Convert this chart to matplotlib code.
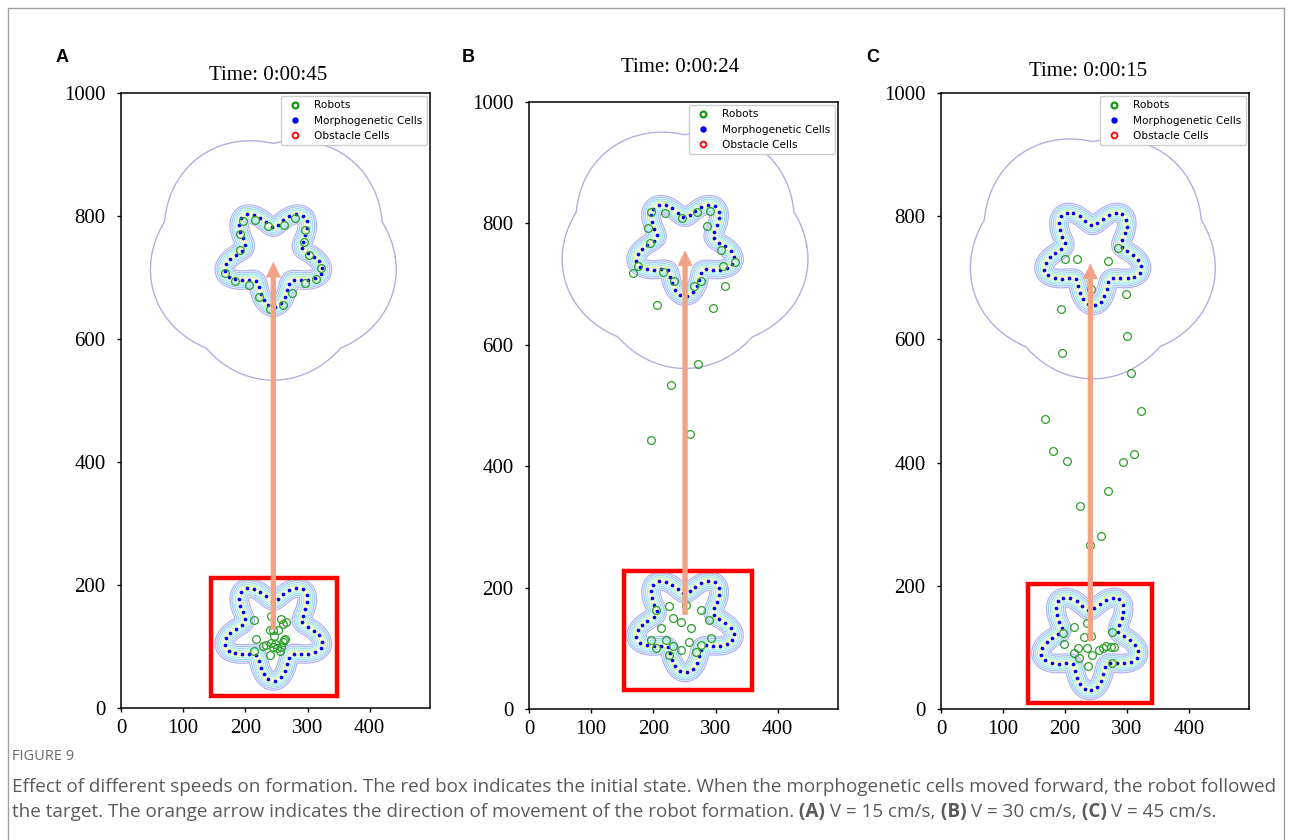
import numpy as np
import matplotlib
matplotlib.use('Agg')
import matplotlib.pyplot as plt
from matplotlib.lines import Line2D
from matplotlib.patches import Rectangle
from matplotlib import font_manager as fm

# ---------------- data ----------------
panel_letters = ['A', 'B', 'C']
time_labels = ['Time: 0:00:45', 'Time: 0:00:24', 'Time: 0:00:15']
x_ticks = [0, 100, 200, 300, 400]
y_ticks = [0, 200, 400, 600, 800, 1000]

start_centers = [(245, 126), (251, 142), (240, 112)]      # initial star formation
target_centers = [(245, 734), (251, 762), (245, 737)]     # morphogenetic target star
red_boxes = [(144, 19, 347, 211), (153, 32, 358, 227), (141, 10, 341, 203)]
arrow_x = [245, 251, 241]
arrow_y0 = [127, 155, 110]
arrow_y1 = [726, 756, 724]

star_r0, star_amp = 65, 17          # star outline radius / modulation
flower_r0, flower_amp = 184, 17     # outer lavender boundary
n_cells = 48

robots_A_x = [196, 215, 236, 262, 280, 296, 295, 303, 321, 314, 296, 275, 261, 240, 222, 206, 183, 168, 191, 191,
              214, 241, 258, 266, 261, 252, 244, 239, 246, 217, 228, 233, 241, 248, 251, 258, 262, 264, 260, 239, 214, 244, 255]
robots_A_y = [792, 794, 784, 786, 796, 778, 758, 737, 716, 697, 691, 675, 656, 649, 668, 688, 695, 708, 745, 770,
              143, 149, 144, 140, 136, 127, 127, 127, 117, 112, 101, 102, 105, 104, 97, 99, 111, 113, 108, 86, 92, 99, 92]

robots_B_x = [197, 218, 246, 270, 291, 191, 195, 175, 168, 309, 312, 332, 286, 233, 265, 277, 215,
              206, 296, 316, 272, 228, 259, 197,
              204, 225, 252, 277, 290, 231, 244, 260, 212, 196, 220, 231, 257, 277, 293, 204, 244, 269, 225]
robots_B_y = [819, 817, 809, 819, 820, 792, 768, 730, 718, 756, 730, 736, 796, 705, 697, 705, 720,
              666, 661, 697, 568, 534, 453, 443,
              163, 170, 171, 163, 147, 150, 143, 133, 133, 114, 114, 104, 110, 105, 117, 100, 97, 94, 89]

robots_C_x = [200, 219, 269, 286, 299, 193, 242,
              196, 300, 306, 322, 168, 181, 204, 311, 293, 269, 225, 258, 241,
              236, 214, 197, 230, 242, 276, 198, 214, 221, 235, 223, 244, 255, 262, 266, 275, 279, 238, 276]
robots_C_y = [731, 731, 727, 749, 673, 650, 682,
              578, 606, 546, 484, 471, 419, 403, 414, 401, 354, 330, 281, 266,
              140, 133, 123, 117, 119, 125, 105, 91, 99, 99, 83, 88, 96, 99, 102, 101, 101, 70, 75]

robots_x = [robots_A_x, robots_B_x, robots_C_x]
robots_y = [robots_A_y, robots_B_y, robots_C_y]

# axes rectangles in pixels: left, top, right, bottom
axes_px = [(121, 93, 430, 708), (529, 102, 838, 709), (941, 93, 1249, 709)]
title_px = [(268, 75), (680, 67), (1088, 72)]
letter_px = [(62, 58), (468, 58), (873, 58)]

W, H = 1292, 840
fig = plt.figure(figsize=(W / 100, H / 100), dpi=100)

serif = 'Liberation Serif'
band_levels = [-15, -12, -9, -6, -3, 3, 6, 9, 12, 15]
band_colors = ['#b6b2f0', '#a4c4f6', '#9edcf4', '#a6f0e4', '#e8f4a0',
               '#e8f4a0', '#a6f0e4', '#9edcf4', '#a4c4f6', '#b6b2f0']
robot_green = '#2ca02c'
arrow_color = '#f2a285'
flower_color = '#b3aedd'


def star_radius(t):
    return star_r0 + star_amp * np.cos(5 * (t - 1.5 * np.pi))


def star_curve(cx, cy, n=600):
    t = np.linspace(0, 2 * np.pi, n, endpoint=False)
    r = star_radius(t)
    return cx + r * np.cos(t), cy + r * np.sin(t)


def draw_star(ax, cx, cy):
    gx = np.linspace(cx - 120, cx + 120, 201)
    gy = np.linspace(cy - 120, cy + 120, 201)
    X, Y = np.meshgrid(gx, gy)
    px, py = star_curve(cx, cy, 500)
    D = np.full(X.shape, np.inf)
    for i in range(len(px)):
        D = np.minimum(D, (X - px[i]) ** 2 + (Y - py[i]) ** 2)
    D = np.sqrt(D)
    th = np.arctan2(Y - cy, X - cx)
    rho = np.hypot(X - cx, Y - cy)
    S = np.where(rho < star_radius(th), -D, D)
    ax.contour(X, Y, S, levels=band_levels, colors=band_colors, linewidths=0.9, zorder=2)
    # morphogenetic cells, evenly spaced along the outline
    cxs, cys = star_curve(cx, cy, 2000)
    seg = np.hypot(np.diff(np.r_[cxs, cxs[0]]), np.diff(np.r_[cys, cys[0]]))
    s = np.r_[0, np.cumsum(seg)][:-1]
    targets = np.linspace(0, s[-1] + seg[-1], n_cells, endpoint=False)
    idx = np.searchsorted(s, targets).clip(0, len(s) - 1)
    ax.plot(cxs[idx], cys[idx], 'o', color='#0000ff', ms=2.7, mew=0, zorder=3)


for k in range(3):
    l, t, r, b = axes_px[k]
    ax = fig.add_axes([l / W, 1 - b / H, (r - l) / W, (b - t) / H])
    ax.set_xlim(0, 497)
    ax.set_ylim(0, 1000)
    ax.set_xticks(x_ticks)
    ax.set_yticks(y_ticks)
    for lab in ax.get_xticklabels() + ax.get_yticklabels():
        lab.set_fontfamily(serif)
        lab.set_fontsize(15)
    ax.tick_params(axis='x', length=3, width=1, pad=5)
    ax.tick_params(axis='y', length=3, width=1, pad=8)
    for sp in ax.spines.values():
        sp.set_linewidth(1.1)

    # outer flower boundary
    fx, fy = target_centers[k]
    th = np.linspace(0, 2 * np.pi, 800)
    rf = flower_r0 + flower_amp * np.abs(np.sin(2.5 * (th - np.pi / 2)))
    ax.plot(fx + rf * np.cos(th), fy + rf * np.sin(th), color=flower_color, lw=1.0, zorder=1)

    draw_star(ax, *start_centers[k])
    draw_star(ax, *target_centers[k])

    x0, y0, x1, y1 = red_boxes[k]
    ax.add_patch(Rectangle((x0, y0), x1 - x0, y1 - y0, fill=False, ec='#ff0000', lw=3.2, zorder=4))

    ax.plot(robots_x[k], robots_y[k], 'o', mfc='none', mec=robot_green, ms=5.6, mew=0.9, zorder=5)

    ax.arrow(arrow_x[k], arrow_y0[k], 0, arrow_y1[k] - arrow_y0[k], width=8.5, head_width=24,
             head_length=26, length_includes_head=True, color=arrow_color, lw=0, zorder=6)

    handles = [Line2D([], [], ls='none', marker='o', mfc='none', mec='#119911', mew=1.6, ms=4.2),
               Line2D([], [], ls='none', marker='o', mfc='#0000ff', mec='#0000ff', ms=3.6),
               Line2D([], [], ls='none', marker='o', mfc='none', mec='#ff0000', mew=1.3, ms=4.2)]
    leg = ax.legend(handles, ['Robots', 'Morphogenetic Cells', 'Obstacle Cells'], loc='upper right',
                    bbox_to_anchor=(1, 1), borderaxespad=0.3, prop={'family': 'DejaVu Sans', 'size': 7.6},
                    labelspacing=0.5, framealpha=1, edgecolor='#cccccc', fancybox=True)
    leg.set_zorder(10)

    tx, ty = title_px[k]
    fig.text(tx / W, 1 - ty / H, time_labels[k], family=serif, fontsize=15, ha='center', va='center')
    lx, ly = letter_px[k]
    fig.text(lx / W, 1 - ly / H, panel_letters[k], family='Liberation Sans', fontweight='bold',
             fontsize=13, ha='center', va='center')

# frame around the whole figure
frame_col = '#a0a0a0'
fig.add_artist(Line2D([8 / W, 8 / W], [0, 1 - 8 / H], color=frame_col, lw=1))
fig.add_artist(Line2D([8 / W, 1284 / W], [1 - 8 / H, 1 - 8 / H], color=frame_col, lw=1))
fig.add_artist(Line2D([1284 / W, 1284 / W], [0, 1 - 8 / H], color=frame_col, lw=1))

# caption
avail = {f.name for f in fm.fontManager.ttflist}
cap_font = next((f for f in ['Liberation Sans Narrow', 'Open Sans', 'Lato'] if f in avail), 'DejaVu Sans')
cap_col = '#5a5a5a'
fig.text(12 / W, 1 - 757 / H, 'FIGURE 9', family=cap_font, fontsize=10.5, color='#6a6a6a', va='center')

line1 = ('Effect of different speeds on formation. The red box indicates the initial state. '
         'When the morphogenetic cells moved forward, the robot followed')
pieces2 = [('the target. The orange arrow indicates the direction of movement of the robot formation.', 'normal'),
           (' (A)', 'bold'), (' V = 15 cm/s,', 'normal'), (' (B)', 'bold'), (' V = 30 cm/s,', 'normal'),
           (' (C)', 'bold'), (' V = 45 cm/s.', 'normal')]

fs = 13
t1 = fig.text(12 / W, 1 - 787 / H, line1, family=cap_font, fontsize=fs, color=cap_col, va='center')
fig.canvas.draw()
renderer = fig.canvas.get_renderer()
w1 = t1.get_window_extent(renderer).width
fs = fs * 1263 / w1
t1.set_fontsize(fs)
fig.canvas.draw()

xpos = 12
for txt, wt in pieces2:
    tt = fig.text(xpos / W, 1 - 812 / H, txt, family=cap_font, fontsize=fs, color=cap_col,
                  fontweight=wt, va='center')
    xpos += tt.get_window_extent(renderer).width

fig.savefig('out.png', dpi=100)
